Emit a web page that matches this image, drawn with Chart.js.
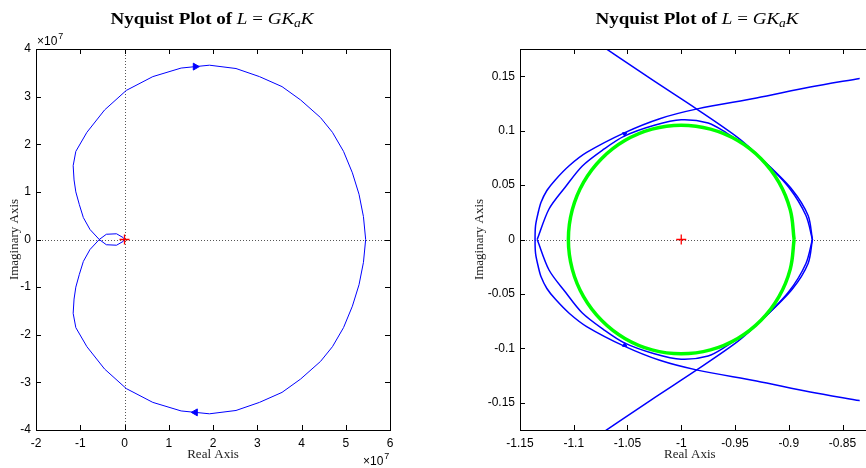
<!DOCTYPE html>
<html>
<head>
<meta charset="utf-8">
<script src="https://cdn.jsdelivr.net/npm/chart.js@4.4.1/dist/chart.umd.min.js"></script>
<style>
html, body { margin: 0; padding: 0; background: #fff; }
#wrap { position: relative; width: 866px; height: 468px; overflow: hidden; }
canvas { position: absolute; top: 0; }
</style>
</head>
<body>
<div id="wrap">
  <canvas id="full" width="433" height="468" style="left:0"></canvas>
  <canvas id="zoom" width="433" height="468" style="left:433px"></canvas>
</div>
<script>
// ---- full Nyquist view, values in units of 1e7 ----
const fullExp = 7;
const fullRe = [0, -0.03, -0.18, -0.41, -0.57, -0.78, -0.93, -1.02, -1.1, -1.14, -1.16, -1.1, -0.85, -0.45,
  0.04, 0.64, 1.28, 1.92, 2.52, 3.05, 3.56, 3.98, 4.43, 4.7, 4.95, 5.15, 5.3, 5.4, 5.45,
  5.4, 5.3, 5.15, 4.95, 4.7, 4.43, 3.98, 3.56, 3.05, 2.52, 1.92, 1.28, 0.64, 0.04,
  -0.45, -0.85, -1.1, -1.16, -1.14, -1.1, -1.02, -0.93, -0.78, -0.57, -0.41, -0.18, -0.03, 0];
const fullIm = [0, -0.04, -0.12, -0.11, 0, 0.21, 0.46, 0.73, 1.0, 1.25, 1.55, 1.85, 2.25, 2.72,
  3.13, 3.42, 3.60, 3.66, 3.59, 3.42, 3.21, 2.93, 2.56, 2.25, 1.85, 1.4, 0.95, 0.48, 0,
  -0.48, -0.95, -1.4, -1.85, -2.25, -2.56, -2.93, -3.21, -3.42, -3.59, -3.66, -3.60, -3.42, -3.13,
  -2.72, -2.25, -1.85, -1.55, -1.25, -1.0, -0.73, -0.46, -0.21, 0, 0.11, 0.12, 0.04, 0];
const fullArrowRe = [1.6, 1.6];
const fullArrowIm = [3.63, -3.63];
const fullArrowRot = [90, -90];
const fullXTicks = [-2, -1, 0, 1, 2, 3, 4, 5, 6];
const fullYTicks = [-4, -3, -2, -1, 0, 1, 2, 3, 4];

// ---- zoom near the critical point ----
const zoomXTicks = [-1.15, -1.1, -1.05, -1, -0.95, -0.9, -0.85];
const zoomYTicks = [-0.15, -0.1, -0.05, 0, 0.05, 0.1, 0.15];
const zoomXMax = -0.834;
const zoomYLim = 0.175;

const outerRe = [-0.80, -0.834, -0.88, -0.93, -0.985, -1.02, -1.053, -1.088, -1.104, -1.117, -1.125, -1.1305, -1.133, -1.1355, -1.136,
  -1.1355, -1.133, -1.1305, -1.125, -1.117, -1.104, -1.088, -1.053, -1.02, -0.985, -0.93, -0.88, -0.834, -0.80];
const outerIm = [0.154, 0.148, 0.140, 0.130, 0.120, 0.111, 0.098, 0.080, 0.068, 0.055, 0.045, 0.034, 0.025, 0.013, 0,
  -0.013, -0.025, -0.034, -0.045, -0.055, -0.068, -0.080, -0.098, -0.111, -0.120, -0.130, -0.140, -0.148, -0.154];

const innerRe = [-1.134, -1.134, -1.123, -1.108, -1.092, -1.072, -1.053, -1.025, -1.0, -0.975, -0.958, -0.94,
  -0.922, -0.897, -0.882, -0.878, -0.878, -0.882, -0.897, -0.922, -0.94, -0.958, -0.975, -1.0, -1.025,
  -1.053, -1.072, -1.092, -1.108, -1.123, -1.134, -1.134];
const innerIm = [0, 0, 0.028, 0.048, 0.0676, 0.083, 0.095, 0.105, 0.110, 0.107, 0.098, 0.086,
  0.071, 0.046, 0.022, 0, 0, -0.022, -0.046, -0.071, -0.086, -0.098, -0.107, -0.110, -0.105,
  -0.095, -0.083, -0.0676, -0.048, -0.028, 0, 0];

const branchRe = [-1.092, -1.0275, -0.9856, -0.9474, -0.925, -0.90, -0.884, -0.878,
  -0.878, -0.884, -0.90, -0.925, -0.9474, -0.9856, -1.0275, -1.092];
const branchIm = [0.19, 0.147, 0.1198, 0.0936, 0.074, 0.048, 0.022, 0,
  0, -0.022, -0.048, -0.074, -0.0936, -0.1198, -0.147, -0.19];

const diskRe = [-0.895, -0.8986, -0.9091, -0.9258, -0.9475, -0.9728, -1, -1.0272, -1.0525, -1.0742, -1.0909, -1.1014,
  -1.105, -1.1014, -1.0909, -1.0742, -1.0525, -1.0272, -1, -0.9728, -0.9475, -0.9258, -0.9091, -0.8986, -0.895];
const diskIm = [0, 0.0272, 0.0525, 0.0742, 0.0909, 0.1014, 0.105, 0.1014, 0.0909, 0.0742, 0.0525, 0.0272,
  0, -0.0272, -0.0525, -0.0742, -0.0909, -0.1014, -0.105, -0.1014, -0.0909, -0.0742, -0.0525, -0.0272, 0];

const zoomArrowRe = [-1.0526, -1.0526];
const zoomArrowIm = [0.097, -0.097];
const zoomArrowRot = [60, 120];

const critRe = [-1];
const critIm = [0];

const pts = (re, im) => re.map((x, i) => ({ x: x, y: im[i] }));

Chart.defaults.font.family = "'Liberation Sans', Arial, sans-serif";
Chart.defaults.font.size = 12;
Chart.defaults.color = '#000';

const serif = '"Liberation Serif", "Times New Roman", serif';

function drawTitle(ctx, cx, baseline, width) {
  const parts = [
    ['Nyquist Plot of ', 'bold 17px ' + serif, 0],
    ['L', 'italic 17px ' + serif, 0],
    [' = ', '17px ' + serif, 0],
    ['GK', 'italic 17px ' + serif, 0],
    ['a', 'italic 12px ' + serif, 3],
    ['K', 'italic 17px ' + serif, 0]
  ];
  let total = 0;
  parts.forEach(p => { ctx.font = p[1]; total += ctx.measureText(p[0]).width; });
  ctx.save();
  ctx.translate(cx - width / 2, baseline);
  ctx.scale(width / total, 1);
  ctx.fillStyle = '#000';
  ctx.textAlign = 'left';
  ctx.textBaseline = 'alphabetic';
  let x = 0;
  parts.forEach(p => {
    ctx.font = p[1];
    ctx.fillText(p[0], x, p[2]);
    x += ctx.measureText(p[0]).width;
  });
  ctx.restore();
}

function drawExp(ctx, x, y, exp) {
  ctx.save();
  ctx.fillStyle = '#000';
  ctx.textAlign = 'left';
  ctx.textBaseline = 'alphabetic';
  ctx.font = "12px 'Liberation Sans', Arial, sans-serif";
  ctx.fillText('\u00d710', x, y);
  const w = ctx.measureText('\u00d710').width;
  ctx.font = "9px 'Liberation Sans', Arial, sans-serif";
  ctx.fillText(String(exp), x + w + 1, y - 6);
  ctx.restore();
}

const framePlugin = {
  id: 'frame',
  beforeDatasetsDraw(chart) {
    const { ctx, chartArea: a, scales: { x, y } } = chart;
    ctx.save();
    ctx.strokeStyle = '#555';
    ctx.lineWidth = 1;
    ctx.setLineDash([1, 2]);
    ctx.beginPath();
    const py = Math.round(y.getPixelForValue(0)) + 0.5;
    ctx.moveTo(a.left, py);
    ctx.lineTo(a.right, py);
    if (x.min < 0 && x.max > 0) {
      const px = Math.round(x.getPixelForValue(0)) + 0.5;
      ctx.moveTo(px, a.top);
      ctx.lineTo(px, a.bottom);
    }
    ctx.stroke();
    ctx.restore();
  },
  afterDraw(chart, args, opts) {
    const { ctx, chartArea: a, scales: { x, y } } = chart;
    const right = opts.openRight ? a.right + 20 : a.right;
    ctx.save();
    ctx.strokeStyle = '#000';
    ctx.lineWidth = 1;
    ctx.strokeRect(a.left + 0.5, a.top + 0.5, right - a.left, a.bottom - a.top);
    ctx.beginPath();
    const tl = 5;
    x.ticks.forEach(t => {
      const px = Math.round(x.getPixelForValue(t.value)) + 0.5;
      ctx.moveTo(px, a.bottom); ctx.lineTo(px, a.bottom - tl);
      ctx.moveTo(px, a.top); ctx.lineTo(px, a.top + tl);
    });
    y.ticks.forEach(t => {
      const py = Math.round(y.getPixelForValue(t.value)) + 0.5;
      ctx.moveTo(a.left, py); ctx.lineTo(a.left + tl, py);
      if (!opts.openRight) { ctx.moveTo(a.right, py); ctx.lineTo(a.right - tl, py); }
    });
    ctx.stroke();
    ctx.restore();
    drawTitle(ctx, opts.titleX, 24, 203);
    if (opts.exp) {
      drawExp(ctx, a.left + 1, a.top - 4, opts.exp);
      drawExp(ctx, a.right - 27, 465, opts.exp);
    }
  }
};

function fmt(v) { return String(Math.round(v * 100) / 100); }

function makeScales(xTicks, yTicks, xMin, xMax, yMin, yMax, yAxisWidth, yTitlePad) {
  return {
    x: {
      type: 'linear', min: xMin, max: xMax,
      afterBuildTicks: s => { s.ticks = xTicks.map(v => ({ value: v })); },
      afterFit: s => { s.height = 38; },
      grid: { display: false, drawTicks: false },
      border: { display: false },
      ticks: { padding: 6, maxRotation: 0, callback: v => fmt(v) },
      title: { display: true, text: 'Real Axis', color: '#222', font: { family: serif, size: 13 }, padding: { bottom: 6 } }
    },
    y: {
      type: 'linear', min: yMin, max: yMax,
      afterBuildTicks: s => { s.ticks = yTicks.map(v => ({ value: v })); },
      afterFit: s => { s.width = yAxisWidth; },
      grid: { display: false, drawTicks: false },
      border: { display: false },
      ticks: { padding: 5, callback: v => fmt(v) },
      title: { display: true, text: 'Imaginary Axis', color: '#222', font: { family: serif, size: 13 }, padding: { top: yTitlePad } }
    }
  };
}

const common = {
  responsive: false,
  animation: false,
  devicePixelRatio: 1,
  elements: { line: { capBezierPoints: false } },
  events: []
};

const crossStyle = { pointStyle: 'cross', pointRadius: 5, borderColor: '#ff0000',
  pointBorderColor: '#ff0000', pointBorderWidth: 1.3, showLine: false };

new Chart(document.getElementById('full'), {
  type: 'scatter',
  data: {
    datasets: [
      Object.assign({ data: pts(critRe.map(v => v / Math.pow(10, fullExp)), critIm) }, crossStyle),
      { data: pts(fullArrowRe, fullArrowIm), pointStyle: 'triangle', pointRadius: 4, pointRotation: fullArrowRot,
        pointBackgroundColor: '#0000ff', pointBorderColor: '#0000ff', showLine: false },
      { data: pts(fullRe, fullIm), showLine: true, borderColor: '#0000ff', borderWidth: 1, pointRadius: 0, tension: 0 }
    ]
  },
  options: Object.assign({}, common, {
    layout: { padding: { left: 0, top: 49, right: 43, bottom: 0 } },
    scales: makeScales(fullXTicks, fullYTicks, fullXTicks[0], fullXTicks[fullXTicks.length - 1],
      fullYTicks[0], fullYTicks[fullYTicks.length - 1], 36, 7),
    plugins: { legend: { display: false }, tooltip: { enabled: false },
      frame: { titleX: 212, exp: fullExp, openRight: false } }
  }),
  plugins: [framePlugin]
});

new Chart(document.getElementById('zoom'), {
  type: 'scatter',
  data: {
    datasets: [
      Object.assign({ data: pts(critRe, critIm) }, crossStyle),
      { data: pts(diskRe, diskIm), showLine: true, borderColor: '#00ff00', borderWidth: 3.5, pointRadius: 0, tension: 0.4 },
      { data: pts(zoomArrowRe, zoomArrowIm), pointStyle: 'triangle', pointRadius: 2.5, pointRotation: zoomArrowRot,
        pointBackgroundColor: '#0000ff', pointBorderColor: '#0000ff', showLine: false },
      { data: pts(branchRe, branchIm), showLine: true, borderColor: '#0000ff', borderWidth: 1.5, pointRadius: 0, tension: 0.3 },
      { data: pts(innerRe, innerIm), showLine: true, borderColor: '#0000ff', borderWidth: 1.5, pointRadius: 0, tension: 0.3 },
      { data: pts(outerRe, outerIm), showLine: true, borderColor: '#0000ff', borderWidth: 1.5, pointRadius: 0, tension: 0.3 }
    ]
  },
  options: Object.assign({}, common, {
    layout: { padding: { left: 0, top: 49, right: 0, bottom: 0 } },
    scales: makeScales(zoomXTicks, zoomYTicks, zoomXTicks[0], zoomXMax, -zoomYLim, zoomYLim, 87, 39),
    plugins: { legend: { display: false }, tooltip: { enabled: false },
      frame: { titleX: 264, exp: 0, openRight: true } }
  }),
  plugins: [framePlugin]
});
</script>
</body>
</html>
